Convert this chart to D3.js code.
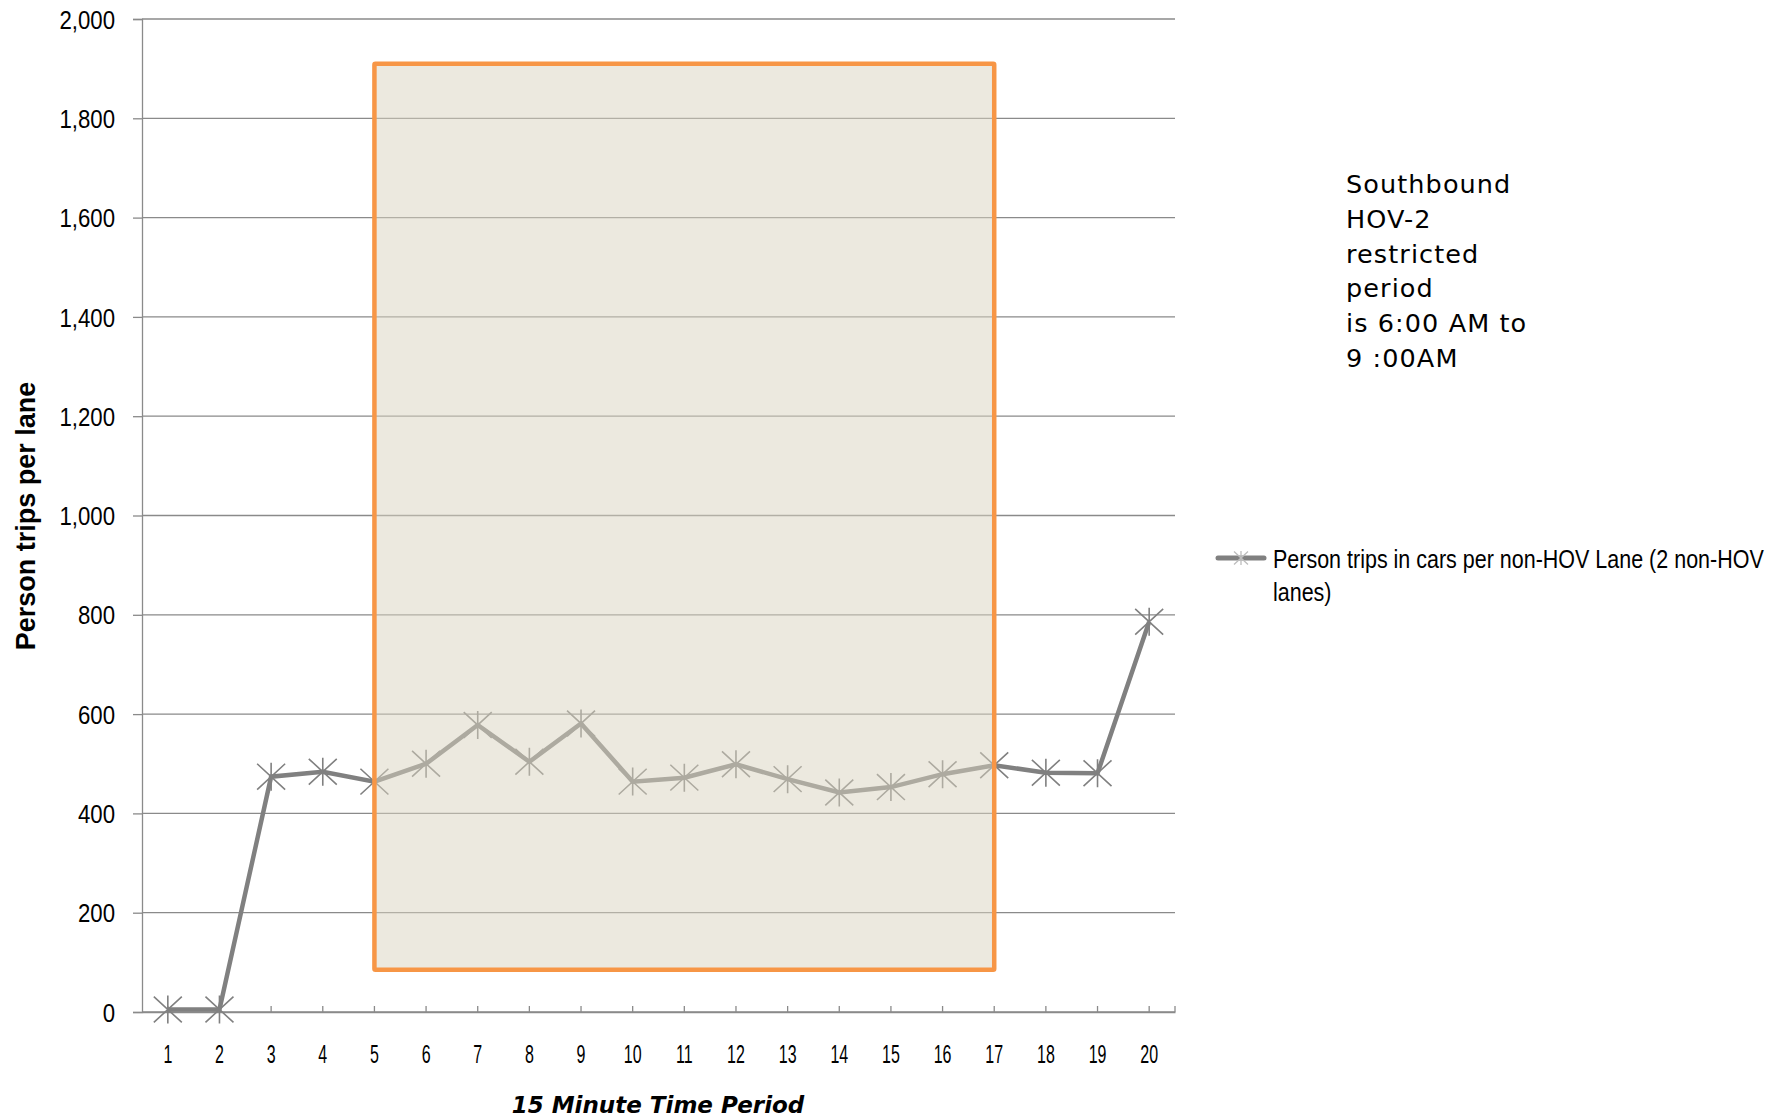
<!DOCTYPE html>
<html>
<head>
<meta charset="utf-8">
<script src="https://cdn.jsdelivr.net/npm/d3@7"></script>
<style>
  html, body { margin: 0; padding: 0; background: #fff; }
  svg { display: block; }
</style>
</head>
<body>
<svg id="chart" width="1789" height="1120"></svg>
<script>
// ---- data ----
const categories = ["1","2","3","4","5","6","7","8","9","10","11","12","13","14","15","16","17","18","19","20"];
const personTrips = [5, 5, 474, 484, 464, 500, 578, 504, 581, 464, 472, 499, 469, 442, 453, 479, 497, 482, 481, 786];
const yTickValues = [0, 200, 400, 600, 800, 1000, 1200, 1400, 1600, 1800, 2000];
const seriesName = ["Person trips in cars per non-HOV Lane (2 non-HOV", "lanes)"];
const restrictedRange = ["5", "17"];
const restrictedLevels = [85, 1910];
const noteLines = ["Southbound", "HOV-2", "restricted", "period", "is 6:00 AM to", "9 :00AM"];
const xTitle = "15 Minute Time Period";
const yTitle = "Person trips per lane";

// ---- layout ----
const svg = d3.select("#chart");
const plot = { left: 142, right: 1175, top: 19, bottom: 1012 };
const sansFont = "'Liberation Sans', Arial, sans-serif";

const x = d3.scaleBand().domain(categories).range([plot.left, plot.right]).padding(0);
const cx = d => x(d) + x.bandwidth() / 2;
const y = d3.scaleLinear().domain([0, 2000]).range([plot.bottom, plot.top]);

// gridlines
svg.append("g")
  .selectAll("line").data(yTickValues).join("line")
  .attr("x1", plot.left).attr("x2", plot.right)
  .attr("y1", d => y(d)).attr("y2", d => y(d))
  .attr("stroke", "#8a8a8a").attr("stroke-width", 1.3);

// y axis
const ySx = 0.87;
const yAxis = d3.axisLeft(y).tickValues(yTickValues).tickSize(9).tickPadding(18)
  .tickFormat(d3.format(","));
const gy = svg.append("g").attr("transform", `translate(${plot.left},0)`).call(yAxis);
gy.select(".domain").attr("stroke", "#8a8a8a").attr("stroke-width", 1.3);
gy.selectAll(".tick line").attr("stroke", "#8a8a8a").attr("stroke-width", 1.3);
gy.selectAll(".tick text").attr("font-family", sansFont).attr("font-size", 25.5)
  .attr("fill", "#000").attr("dy", "0.36em")
  .attr("x", -27 / ySx).attr("transform", `scale(${ySx},1)`);

// x axis
const xSx = 0.64;
const xAxis = d3.axisBottom(x).tickSizeInner(-6).tickSizeOuter(0).tickPadding(33);
const gx = svg.append("g").attr("transform", `translate(0,${plot.bottom})`).call(xAxis);
gx.select(".domain").attr("stroke", "#8a8a8a").attr("stroke-width", 1.3);
gx.selectAll(".tick line").attr("stroke", "#8a8a8a").attr("stroke-width", 1.3);
gx.selectAll(".tick text").attr("font-family", sansFont).attr("font-size", 25)
  .attr("fill", "#000").attr("transform", `scale(${xSx},1)`);
gx.append("line").attr("x1", plot.right).attr("x2", plot.right).attr("y1", 0).attr("y2", -6)
  .attr("stroke", "#8a8a8a").attr("stroke-width", 1.3);

// series line
const lineGen = d3.line().x((d, i) => cx(categories[i])).y(d => y(d));
svg.append("path").datum(personTrips)
  .attr("d", lineGen).attr("fill", "none")
  .attr("stroke", "#808080").attr("stroke-width", 4.5).attr("stroke-linejoin", "miter");

// markers (asterisk)
function asterisk(s, h) {
  return `M0,${-h}L0,${h}M${-s},${-h * 0.92}L${s},${h * 0.92}M${-s},${h * 0.92}L${s},${-h * 0.92}`;
}
svg.append("g").selectAll("path").data(personTrips).join("path")
  .attr("transform", (d, i) => `translate(${cx(categories[i])},${y(d)})`)
  .attr("d", asterisk(14, 14))
  .attr("fill", "none").attr("stroke", "#808080").attr("stroke-width", 1.6);

// restricted period shading (semi-transparent overlay)
const rx0 = cx(restrictedRange[0]), rx1 = cx(restrictedRange[1]);
svg.append("rect")
  .attr("x", rx0).attr("y", y(restrictedLevels[1]))
  .attr("width", rx1 - rx0).attr("height", y(restrictedLevels[0]) - y(restrictedLevels[1]))
  .attr("fill", "rgb(217,211,191)").attr("fill-opacity", 0.5)
  .attr("stroke", "#F79646").attr("stroke-width", 4.5).attr("rx", 1);

// axis titles
svg.append("text")
  .attr("transform", `translate(35,516) rotate(-90)`)
  .attr("text-anchor", "middle")
  .attr("font-family", sansFont).attr("font-weight", "bold")
  .attr("font-size", 27).attr("fill", "#000").text(yTitle);

svg.append("text")
  .attr("x", 658).attr("y", 1113).attr("text-anchor", "middle")
  .attr("font-family", "'DejaVu Sans', sans-serif").attr("font-weight", "bold")
  .attr("font-style", "italic").attr("font-size", 23).attr("fill", "#000").text(xTitle);

// note
svg.append("text")
  .attr("font-family", "'DejaVu Sans', sans-serif").attr("font-size", 25.5).attr("fill", "#000")
  .attr("letter-spacing", 1.1)
  .selectAll("tspan").data(noteLines).join("tspan")
  .attr("x", 1346).attr("y", (d, i) => 193 + i * 34.8).text(d => d);

// legend
const lg = svg.append("g");
lg.append("line").attr("x1", 1218).attr("x2", 1264).attr("y1", 558).attr("y2", 558)
  .attr("stroke", "#808080").attr("stroke-width", 5).attr("stroke-linecap", "round");
lg.append("path").attr("transform", "translate(1241,558)").attr("d", asterisk(7, 7))
  .attr("fill", "none").attr("stroke", "#bdbdbd").attr("stroke-width", 1.3);
const lSx = 0.86;
lg.append("text")
  .attr("transform", `translate(1273,0) scale(${lSx},1)`)
  .attr("font-family", sansFont).attr("font-size", 25).attr("fill", "#000")
  .selectAll("tspan").data(seriesName).join("tspan")
  .attr("x", 0).attr("y", (d, i) => 568 + i * 33).text(d => d);
</script>
</body>
</html>
